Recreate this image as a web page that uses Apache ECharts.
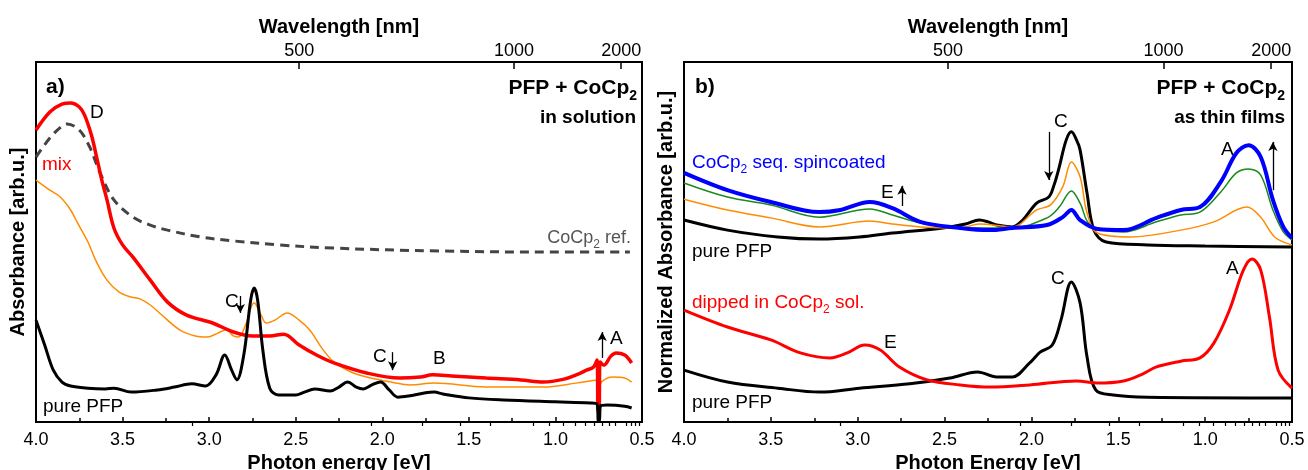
<!DOCTYPE html>
<html>
<head>
<meta charset="utf-8">
<script src="https://cdn.jsdelivr.net/npm/echarts@6/dist/echarts.min.js"></script>
<style>
  html, body { margin: 0; padding: 0; background: #fff; }
  #chart { width: 1308px; height: 470px; }
</style>
</head>
<body>
<div id="chart"></div>
<script>
// ---- data: [photon energy eV, absorbance arb.u.] ----
// panel a) in solution
const pfpSolution = [
  [4.00, 28.3], [3.95, 21.4], [3.90, 14.4], [3.85, 11.1], [3.80, 10.0], [3.70, 9.4], [3.60, 9.2],
  [3.55, 9.4], [3.45, 8.3], [3.30, 8.9], [3.20, 9.7], [3.10, 10.6], [3.02, 10.0], [2.96, 13.1],
  [2.91, 18.6], [2.87, 14.4], [2.84, 11.7], [2.80, 18.6], [2.76, 33.9], [2.74, 37.2], [2.72, 33.9],
  [2.69, 20.0], [2.65, 9.4], [2.60, 7.5], [2.50, 7.5], [2.45, 8.3], [2.39, 9.2], [2.30, 8.6],
  [2.25, 9.7], [2.20, 11.1], [2.15, 9.7], [2.11, 9.2], [2.06, 10.3], [2.01, 11.1], [1.96, 8.9],
  [1.91, 6.9], [1.85, 7.2], [1.75, 8.1], [1.70, 8.3], [1.65, 7.8], [1.50, 6.7], [1.30, 6.1],
  [1.00, 5.6], [0.80, 5.3], [0.760, 5.0], [0.752, 0.3], [0.746, 0.3], [0.740, 4.4], [0.70, 4.7],
  [0.60, 4.4], [0.56, 3.9]
];
const mixSolution = [
  [4.00, 81.1], [3.92, 86.1], [3.85, 88.3], [3.80, 88.6], [3.75, 87.5], [3.72, 85.3], [3.68, 79.7],
  [3.65, 73.6], [3.62, 67.2], [3.59, 61.7], [3.55, 53.9], [3.50, 49.2], [3.44, 45.8], [3.34, 39.4],
  [3.24, 33.3], [3.13, 29.7], [2.98, 27.5], [2.86, 25.0], [2.75, 23.9], [2.65, 23.9], [2.57, 24.4],
  [2.48, 21.4], [2.38, 18.6], [2.28, 16.4], [2.09, 13.6], [1.90, 12.2], [1.78, 12.5], [1.71, 13.1],
  [1.60, 12.8], [1.40, 12.2], [1.20, 11.7], [1.07, 11.1], [0.95, 11.9], [0.88, 13.1], [0.82, 14.4],
  [0.78, 15.3], [0.760, 17.2], [0.754, 3.3], [0.748, 3.3], [0.742, 16.7], [0.72, 15.8], [0.68, 18.3],
  [0.65, 19.2], [0.60, 18.6], [0.56, 16.4]
];
const midSolution = [
  [4.00, 67.2], [3.92, 64.4], [3.86, 62.5], [3.80, 58.9], [3.76, 55.3], [3.70, 50.0], [3.65, 44.4],
  [3.59, 39.4], [3.52, 36.1], [3.45, 34.7], [3.40, 34.2], [3.34, 32.5], [3.28, 30.0], [3.17, 25.6],
  [3.08, 23.9], [3.01, 23.6], [2.95, 24.7], [2.90, 25.6], [2.86, 23.9], [2.83, 23.6], [2.79, 26.9],
  [2.74, 33.1], [2.70, 29.7], [2.67, 27.5], [2.62, 28.3], [2.55, 30.3], [2.48, 28.3], [2.42, 25.6],
  [2.35, 20.6], [2.28, 16.7], [2.18, 13.9], [2.09, 12.5], [1.95, 11.1], [1.84, 10.3], [1.70, 10.8],
  [1.40, 9.7], [1.07, 9.7], [0.88, 10.8], [0.80, 11.4], [0.760, 11.7], [0.754, 3.3], [0.748, 3.3],
  [0.742, 10.3], [0.67, 12.5], [0.60, 12.2], [0.56, 11.1]
];
const cocpRef = [
  [4.00, 73.6], [3.92, 78.9], [3.85, 82.2], [3.82, 82.8], [3.75, 81.1], [3.69, 76.4], [3.63, 69.2],
  [3.55, 61.7], [3.44, 56.9], [3.34, 54.7], [3.24, 53.3], [3.05, 51.4], [2.86, 50.3], [2.60, 49.2],
  [2.28, 48.3], [1.67, 47.5], [1.00, 47.2], [0.57, 47.2]
];
// panel b) thin films, upper group (sequential spincoating)
const pfpFilm = [
  [4.00, 56.1], [3.75, 53.3], [3.46, 51.4], [3.22, 50.8], [2.99, 51.4], [2.80, 52.5], [2.51, 53.9],
  [2.38, 55.0], [2.30, 56.1], [2.25, 55.6], [2.20, 54.7], [2.11, 54.2], [2.05, 56.1], [1.97, 60.8],
  [1.90, 62.5], [1.87, 65.8], [1.84, 70.8], [1.80, 78.3], [1.77, 80.6], [1.74, 78.3], [1.72, 75.6],
  [1.68, 63.6], [1.64, 53.3], [1.57, 50.0], [1.33, 49.2], [1.00, 48.9], [0.50, 48.6]
];
const step1Film = [
  [4.00, 61.9], [3.75, 58.9], [3.50, 56.7], [3.22, 54.2], [2.93, 55.8], [2.80, 55.0], [2.64, 54.2],
  [2.41, 53.9], [2.30, 55.0], [2.11, 54.2], [1.97, 58.9], [1.89, 60.3], [1.82, 65.3], [1.77, 72.2],
  [1.72, 68.1], [1.68, 58.1], [1.62, 52.5], [1.43, 51.4], [1.14, 53.3], [0.95, 55.6], [0.76, 59.7],
  [0.68, 56.9], [0.60, 51.4], [0.50, 49.2]
];
const step2Film = [
  [4.00, 66.4], [3.75, 62.5], [3.50, 60.3], [3.22, 56.9], [2.93, 59.2], [2.80, 57.5], [2.64, 55.3],
  [2.41, 53.9], [2.11, 53.9], [1.91, 56.7], [1.84, 59.7], [1.77, 64.2], [1.72, 60.8], [1.66, 54.7],
  [1.47, 52.8], [1.28, 55.6], [1.14, 57.5], [1.03, 58.3], [0.91, 63.9], [0.82, 69.2], [0.75, 70.3],
  [0.68, 68.6], [0.61, 58.9], [0.55, 52.8], [0.50, 50.6]
];
const step3Film = [
  [4.00, 69.2], [3.75, 64.4], [3.50, 61.1], [3.22, 58.3], [3.10, 58.9], [2.93, 61.1], [2.80, 59.4],
  [2.64, 55.6], [2.41, 53.9], [2.24, 53.3], [2.11, 53.9], [1.91, 54.7], [1.82, 56.9], [1.77, 58.9],
  [1.72, 56.1], [1.62, 53.6], [1.47, 53.3], [1.28, 56.7], [1.14, 58.9], [1.03, 59.7], [0.91, 66.7],
  [0.82, 74.7], [0.75, 76.9], [0.68, 73.6], [0.61, 61.7], [0.55, 54.2], [0.50, 51.1]
];
// panel b) lower group (dipped in solution)
const pfpFilmLow = [
  [4.00, 14.4], [3.75, 11.1], [3.46, 9.4], [3.22, 8.3], [2.99, 9.4], [2.70, 10.6], [2.47, 12.2],
  [2.31, 13.9], [2.20, 12.5], [2.11, 12.5], [2.01, 16.4], [1.95, 19.4], [1.88, 21.4], [1.83, 28.3],
  [1.77, 38.9], [1.72, 33.1], [1.68, 18.1], [1.63, 8.9], [1.53, 7.5], [1.33, 6.9], [0.50, 6.7]
];
const dippedFilm = [
  [4.00, 31.1], [3.75, 26.4], [3.50, 22.8], [3.33, 19.2], [3.16, 17.8], [3.06, 19.2], [2.96, 21.4],
  [2.87, 20.0], [2.76, 15.3], [2.60, 11.7], [2.41, 10.3], [2.24, 9.7], [2.01, 10.3], [1.74, 11.4],
  [1.62, 10.8], [1.47, 11.4], [1.37, 13.1], [1.28, 15.3], [1.14, 16.9], [1.03, 17.8], [0.95, 21.9],
  [0.86, 31.1], [0.78, 42.2], [0.73, 45.3], [0.68, 42.2], [0.63, 29.2], [0.58, 14.4], [0.50, 9.4]
];
// arrows: [energy, from, to]
const arrowsA = [[2.82, 35.0, 30.3], [1.94, 19.4, 14.4], [0.73, 17.8, 25.0]];
const arrowsB = [[2.745, 60.0, 65.6], [1.90, 80.6, 67.2], [0.61, 64.4, 77.8]];
// top axis wavelengths (nm)
const nmMajor = [500, 1000, 2000];
const nmMinor = [400, 600, 700, 800, 900, 1100, 1200, 1300, 1400, 1500, 1600, 1700, 1800, 1900, 2100, 2200, 2300, 2400];

const HC = 1239.84;
const FONT = 'Liberation Sans, Arial, sans-serif';
const chart = echarts.init(document.getElementById('chart'));

function xAxes(gi, energyName) {
  const common = { gridIndex: gi, type: 'value', min: 0.5, max: 4, inverse: true, splitLine: { show: false } };
  return [
    Object.assign({}, common, {
      position: 'bottom', interval: 0.5,
      name: energyName, nameLocation: 'middle', nameGap: 29,
      nameTextStyle: { fontFamily: FONT, fontWeight: 'bold', fontSize: 20, color: '#000' },
      axisLine: { onZero: false, lineStyle: { color: '#000', width: 2 } },
      axisTick: { inside: true, length: 5, lineStyle: { color: '#000', width: 1.5 } },
      minorTick: { show: true, splitNumber: 2, length: 4, lineStyle: { color: '#000', width: 1.5 } },
      axisLabel: { fontFamily: FONT, fontSize: 18, color: '#000', margin: 9, formatter: v => v.toFixed(1) }
    }),
    Object.assign({}, common, {
      position: 'top',
      name: 'Wavelength [nm]', nameLocation: 'middle', nameGap: 22,
      nameTextStyle: { fontFamily: FONT, fontWeight: 'bold', fontSize: 20, color: '#000' },
      axisLine: { onZero: false, lineStyle: { color: '#000', width: 2 } },
      axisTick: { inside: true, length: 7, customValues: nmMajor.map(n => HC / n), lineStyle: { color: '#000', width: 1.5 } },
      axisLabel: { fontFamily: FONT, fontSize: 18, color: '#000', margin: 2, customValues: nmMajor.map(n => HC / n),
        formatter: v => String(Math.round(HC / v / 10) * 10) }
    }),
    Object.assign({}, common, {
      position: 'top',
      axisLine: { show: false },
      axisTick: { inside: true, length: 4, customValues: nmMinor.map(n => HC / n), lineStyle: { color: '#000', width: 1.2 } },
      axisLabel: { show: false }
    })
  ];
}

function yAxis(gi, name) {
  return {
    gridIndex: gi, type: 'value', min: 0, max: 100,
    name: name, nameLocation: 'middle', nameGap: 8,
    nameTextStyle: { fontFamily: FONT, fontWeight: 'bold', fontSize: 20, color: '#000' },
    axisLine: { show: true, lineStyle: { color: '#000', width: 2 } },
    axisTick: { show: false }, axisLabel: { show: false }, splitLine: { show: false }
  };
}

function line(gi, data, color, width, extra) {
  return Object.assign({
    type: 'line', xAxisIndex: gi * 3, yAxisIndex: gi, data: data,
    showSymbol: false, smooth: 0.35, silent: true,
    lineStyle: { color: color, width: width }
  }, extra || {});
}

function arrows(list) {
  return {
    silent: true, symbol: ['none', 'arrow'], symbolSize: [7, 9],
    lineStyle: { color: '#000', width: 1.3, type: 'solid' }, label: { show: false },
    data: list.map(a => [{ coord: [a[0], a[1]] }, { coord: [a[0], a[2]] }])
  };
}

function txt(x, y, text, opt) {
  opt = opt || {};
  return {
    type: 'text', x: x, y: y, silent: true,
    style: {
      text: text, fill: opt.color || '#000', fontFamily: FONT,
      fontSize: opt.size || 19, fontWeight: opt.bold ? 'bold' : 'normal',
      align: opt.align || 'left', verticalAlign: 'middle', rich: opt.rich
    }
  };
}

function subRich(color, size, bold) {
  return {
    n: { fontFamily: FONT, fontSize: size, fontWeight: bold ? 'bold' : 'normal', fill: color, color: color },
    s: { fontFamily: FONT, fontSize: Math.round(size * 0.65), fontWeight: bold ? 'bold' : 'normal', fill: color, color: color, padding: [Math.round(size * 0.75), 0, 0, 0] }
  };
}

const option = {
  animation: false,
  backgroundColor: '#fff',
  grid: [
    { left: 36, top: 62, width: 606, height: 360, outerBoundsMode: 'none', show: true, borderColor: '#000', borderWidth: 2 },
    { left: 684, top: 62, width: 608, height: 360, outerBoundsMode: 'none', show: true, borderColor: '#000', borderWidth: 2 }
  ],
  xAxis: xAxes(0, 'Photon energy [eV]').concat(xAxes(1, 'Photon Energy [eV]')),
  yAxis: [yAxis(0, 'Absorbance [arb.u.]'), yAxis(1, 'Normalized Absorbance [arb.u.]')],
  series: [
    line(0, cocpRef, '#444', 3, { lineStyle: { color: '#444', width: 3, type: [9, 6] } }),
    line(0, midSolution, '#ff8c00', 1.5),
    line(0, mixSolution, '#ff0000', 3.5),
    line(0, pfpSolution, '#000', 3, { markLine: arrows(arrowsA) }),
    line(1, pfpFilm, '#000', 3, { markLine: arrows(arrowsB) }),
    line(1, step1Film, '#ff8c00', 1.5),
    line(1, step2Film, '#1a8a1a', 1.5),
    line(1, step3Film, '#0000ff', 4),
    line(1, pfpFilmLow, '#000', 3),
    line(1, dippedFilm, '#ff0000', 3)
  ],
  graphic: [
    txt(46, 87, 'a)', { bold: true, size: 21 }),
    txt(90, 113, 'D'),
    txt(42, 165, 'mix', { color: '#ff0000' }),
    txt(631, 238, '{n|CoCp}{s|2}{n| ref.}', { align: 'right', rich: subRich('#555', 18, false) }),
    txt(637, 88, '{n|PFP + CoCp}{s|2}', { align: 'right', rich: subRich('#000', 21, true) }),
    txt(636, 118, 'in solution', { align: 'right', bold: true, size: 19 }),
    txt(225, 302, 'C'), txt(373, 357, 'C'), txt(433, 359, 'B'), txt(610, 339, 'A'),
    txt(43, 407, 'pure PFP'),

    txt(695, 87, 'b)', { bold: true, size: 21 }),
    txt(1285, 88, '{n|PFP + CoCp}{s|2}', { align: 'right', rich: subRich('#000', 21, true) }),
    txt(1285, 118, 'as thin films', { align: 'right', bold: true, size: 19 }),
    txt(692, 163, '{n|CoCp}{s|2}{n| seq. spincoated}', { rich: subRich('#0000ff', 19, false) }),
    txt(881, 193, 'E'), txt(1054, 122, 'C'), txt(1221, 150, 'A'),
    txt(692, 252, 'pure PFP'),
    txt(692, 303, '{n|dipped in CoCp}{s|2}{n| sol.}', { rich: subRich('#ff0000', 19, false) }),
    txt(884, 343, 'E'), txt(1051, 279, 'C'), txt(1226, 269, 'A'),
    txt(692, 403, 'pure PFP')
  ]
};

chart.setOption(option);
</script>
</body>
</html>
